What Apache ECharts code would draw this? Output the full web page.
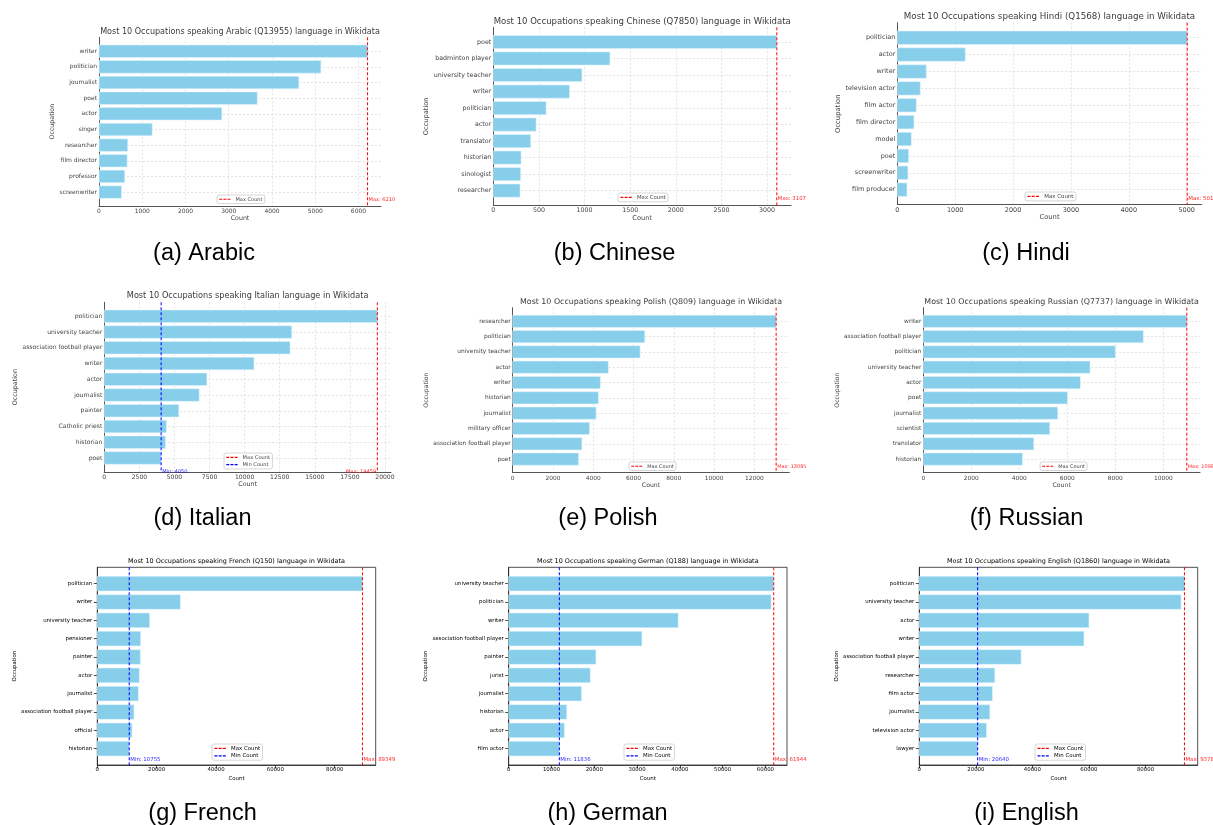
<!DOCTYPE html>
<html><head><meta charset="utf-8">
<script src="https://cdn.jsdelivr.net/npm/echarts@6/dist/echarts.min.js"></script>
<style>html,body{margin:0;padding:0;background:#fff}#main{width:1213px;height:825px}</style>
</head><body><div id="main"></div>
<script>
// ---------------- DATA ----------------
const arabicTitle = 'Most 10 Occupations speaking Arabic (Q13955) language in Wikidata';
const arabicCaption = '(a) Arabic';
const arabicOccupations = ['writer','politician','journalist','poet','actor','singer','researcher','film director','professor','screenwriter'];
const arabicCounts = [6210,5130,4620,3660,2840,1230,665,650,595,520];
const arabicTicks = [0,1000,2000,3000,4000,5000,6000];

const chineseTitle = 'Most 10 Occupations speaking Chinese (Q7850) language in Wikidata';
const chineseCaption = '(b) Chinese';
const chineseOccupations = ['poet','badminton player','university teacher','writer','politician','actor','translator','historian','sinologist','researcher'];
const chineseCounts = [3107,1278,971,835,579,469,410,304,300,293];
const chineseTicks = [0,500,1000,1500,2000,2500,3000];

const hindiTitle = 'Most 10 Occupations speaking Hindi (Q1568) language in Wikidata';
const hindiCaption = '(c) Hindi';
const hindiOccupations = ['politician','actor','writer','television actor','film actor','film director','model','poet','screenwriter','film producer'];
const hindiCounts = [5010,1175,501,397,328,288,242,196,184,167];
const hindiTicks = [0,1000,2000,3000,4000,5000];

const italianTitle = 'Most 10 Occupations speaking Italian language in Wikidata';
const italianCaption = '(d) Italian';
const italianOccupations = ['politician','university teacher','association football player','writer','actor','journalist','painter','Catholic priest','historian','poet'];
const italianCounts = [19459,13357,13238,10667,7310,6762,5310,4429,4357,4050];
const italianTicks = [0,2500,5000,7500,10000,12500,15000,17500,20000];

const polishTitle = 'Most 10 Occupations speaking Polish (Q809) language in Wikidata';
const polishCaption = '(e) Polish';
const polishOccupations = ['researcher','politician','university teacher','actor','writer','historian','journalist','military officer','association football player','poet'];
const polishCounts = [13085,6559,6329,4751,4356,4258,4143,3814,3436,3271];
const polishTicks = [0,2000,4000,6000,8000,10000,12000];

const russianTitle = 'Most 10 Occupations speaking Russian (Q7737) language in Wikidata';
const russianCaption = '(f) Russian';
const russianOccupations = ['writer','association football player','politician','university teacher','actor','poet','journalist','scientist','translator','historian'];
const russianCounts = [10980,9168,8003,6949,6546,6006,5603,5270,4605,4133];
const russianTicks = [0,2000,4000,6000,8000,10000];

const frenchTitle = 'Most 10 Occupations speaking French (Q150) language in Wikidata';
const frenchCaption = '(g) French';
const frenchOccupations = ['politician','writer','university teacher','pensioner','painter','actor','journalist','association football player','official','historian'];
const frenchCounts = [89349,27978,17640,14607,14494,14157,13820,12360,11685,10755];
const frenchTicks = [0,20000,40000,60000,80000];

const germanTitle = 'Most 10 Occupations speaking German (Q188) language in Wikidata';
const germanCaption = '(h) German';
const germanOccupations = ['university teacher','politician','writer','association football player','painter','jurist','journalist','historian','actor','film actor'];
const germanCounts = [61944,61333,39608,31137,20392,19059,17020,13569,13020,11836];
const germanTicks = [0,10000,20000,30000,40000,50000,60000];

const englishTitle = 'Most 10 Occupations speaking English (Q1860) language in Wikidata';
const englishCaption = '(i) English';
const englishOccupations = ['politician','university teacher','actor','writer','association football player','researcher','film actor','journalist','television actor','lawyer'];
const englishCounts = [93780,92588,60000,58235,36000,26706,25882,24941,23765,20640];
const englishTicks = [0,20000,40000,60000,80000];

const panelData = [
  {title: arabicTitle, caption: arabicCaption, occ: arabicOccupations, counts: arabicCounts, ticks: arabicTicks, showMin: false},
  {title: chineseTitle, caption: chineseCaption, occ: chineseOccupations, counts: chineseCounts, ticks: chineseTicks, showMin: false},
  {title: hindiTitle, caption: hindiCaption, occ: hindiOccupations, counts: hindiCounts, ticks: hindiTicks, showMin: false},
  {title: italianTitle, caption: italianCaption, occ: italianOccupations, counts: italianCounts, ticks: italianTicks, showMin: true},
  {title: polishTitle, caption: polishCaption, occ: polishOccupations, counts: polishCounts, ticks: polishTicks, showMin: false},
  {title: russianTitle, caption: russianCaption, occ: russianOccupations, counts: russianCounts, ticks: russianTicks, showMin: false},
  {title: frenchTitle, caption: frenchCaption, occ: frenchOccupations, counts: frenchCounts, ticks: frenchTicks, showMin: true},
  {title: germanTitle, caption: germanCaption, occ: germanOccupations, counts: germanCounts, ticks: germanTicks, showMin: true},
  {title: englishTitle, caption: englishCaption, occ: englishOccupations, counts: englishCounts, ticks: englishTicks, showMin: true}
];

// ---------------- LAYOUT / STYLE ----------------
const layouts = [
  {grid:[99,37.3,282,168.7], titleY:32, fs:8.05, cap:[204,253.8], legend:[217,195], yGap:40.2, xGap:8.5, boxed:false, annY:9.5, maxAlign:'left'},
  {grid:[493.3,27.3,297.7,178], titleY:21.7, fs:8.5, cap:[614.5,253.8], legend:[618,193], yGap:61.3, xGap:9.4, boxed:false, annY:9.5, maxAlign:'left'},
  {grid:[897.3,22.7,304.4,182], titleY:16.7, fs:8.7, cap:[1026,253.8], legend:[1025,192], yGap:54.2, xGap:9.5, boxed:false, annY:9.5, maxAlign:'left'},
  {grid:[104.3,302.3,286.7,169.7], titleY:296, fs:8.16, cap:[202.5,519], legend:[224,453], yGap:83.8, xGap:8.5, boxed:false, annY:9.85, maxAlign:'right'},
  {grid:[512.7,307.7,276.6,165], titleY:301.7, fs:7.9, cap:[608,519], legend:[629,462], yGap:81.7, xGap:7.6, boxed:false, annY:9.5, maxAlign:'left'},
  {grid:[923.3,307.7,276.7,165], titleY:301.7, fs:7.9, cap:[1026.5,519], legend:[1040,462], yGap:81.3, xGap:7.6, boxed:false, annY:9.5, maxAlign:'left'},
  {grid:[97.3,567.3,278.4,197.7], titleY:561.7, fs:6.46, cap:[202.5,813.5], legend:[212,744], yGap:78.1, xGap:10.8, boxed:true, annY:9.6, maxAlign:'left'},
  {grid:[508.7,567.3,278.3,197.7], titleY:561.7, fs:6.46, cap:[607.5,813.5], legend:[624,744], yGap:78.2, xGap:10.8, boxed:true, annY:9.6, maxAlign:'left'},
  {grid:[919.3,567.3,278.4,197.7], titleY:561.7, fs:6.46, cap:[1026.5,813.5], legend:[1035,744], yGap:77.8, xGap:10.8, boxed:true, annY:9.6, maxAlign:'left'}
];

const FONT = 'DejaVu Sans';
const BAR_COLOR = '#87CEEB';
const Y_MIN = -0.89, Y_MAX = 9.89;
const DASH_ICON = 'path://M0,0h5v2h-5zM7,0h5v2h-5zM14,0h5v2h-5z';

const option = {
  animation: false,
  backgroundColor: '#fff',
  title: [], grid: [], xAxis: [], yAxis: [], series: [], legend: []
};

panelData.forEach((d, k) => {
  const L = layouts[k];
  const boxed = L.boxed;
  const tickFs = boxed ? L.fs * 0.84 : L.fs * 0.745;
  const nameFs = boxed ? L.fs * 0.84 : L.fs * 0.78;
  const smallFs = boxed ? L.fs * 0.84 : L.fs * 0.63;
  const textColor = boxed ? '#000' : '#444';
  const lineColor = boxed ? '#222' : '#555';
  const maxVal = Math.max(...d.counts);
  const minVal = Math.min(...d.counts);
  const [gl, gt, gw, gh] = L.grid;
  const cats = d.occ.map((_, i) => i);

  option.title.push({
    text: d.title, left: gl + gw / 2, top: L.titleY, textAlign: 'center', textVerticalAlign: 'middle', padding: 0,
    textStyle: {fontFamily: FONT, fontSize: L.fs, fontWeight: 'normal', color: boxed ? '#000' : '#3a3a3a'}
  });
  option.title.push({
    text: d.caption, left: L.cap[0], top: L.cap[1], textAlign: 'center', textVerticalAlign: 'middle', padding: 0,
    textStyle: {fontFamily: 'Liberation Sans', fontSize: 23.5, fontWeight: 'normal', color: '#000'}
  });

  option.grid.push({
    left: gl, top: gt, width: gw, height: gh, containLabel: false,
    show: boxed, borderColor: lineColor, borderWidth: boxed ? 0.8 : 0, backgroundColor: 'transparent'
  });

  option.xAxis.push({
    type: 'value', gridIndex: k, min: 0, max: maxVal * 1.05,
    name: 'Count', nameLocation: 'middle', nameGap: L.xGap,
    nameTextStyle: {fontFamily: FONT, fontSize: nameFs, color: textColor},
    axisLine: {show: true, onZero: false, lineStyle: {color: lineColor, width: boxed ? 0.8 : 1}},
    axisTick: {show: boxed, customValues: d.ticks, length: 3.5, lineStyle: {color: lineColor, width: 0.8}},
    axisLabel: {customValues: d.ticks, fontFamily: FONT, fontSize: tickFs, color: textColor, margin: boxed ? 2.5 : 2.5, formatter: v => String(v)},
    splitLine: {show: !boxed, lineStyle: {color: '#dcdcdc', type: [2, 2], width: 0.8}}
  });

  option.yAxis.push({
    type: 'value', gridIndex: k, min: Y_MIN, max: Y_MAX, inverse: true,
    name: 'Occupation', nameLocation: 'middle', nameGap: L.yGap,
    nameTextStyle: {fontFamily: FONT, fontSize: nameFs, color: textColor},
    axisLine: {show: true, onZero: false, lineStyle: {color: lineColor, width: boxed ? 0.8 : 1}},
    axisTick: {show: boxed, customValues: cats, length: 3.5, lineStyle: {color: lineColor, width: 0.8}},
    axisLabel: {customValues: cats, fontFamily: FONT, fontSize: tickFs, color: textColor, margin: boxed ? 5 : 2,
      formatter: v => d.occ[Math.round(v)] || ''},
    splitLine: {show: !boxed, lineStyle: {color: '#dcdcdc', type: [2, 2], width: 0.8}}
  });

  option.series.push({
    type: 'custom', name: 'Count', xAxisIndex: k, yAxisIndex: k, clip: false, z: 2,
    encode: {x: 0, y: 1},
    data: d.counts.map((c, i) => [c, i]),
    renderItem: (params, api) => {
      const v = api.value(0), i = api.value(1);
      const a = api.coord([0, i - 0.4]);
      const b = api.coord([v, i + 0.4]);
      return {type: 'rect', shape: {x: a[0], y: Math.min(a[1], b[1]), width: b[0] - a[0], height: Math.abs(b[1] - a[1])},
        style: {fill: BAR_COLOR, stroke: 'rgba(225,244,251,0.9)', lineWidth: 0.6}};
    }
  });

  const refLine = (name, value, color, align) => ({
    type: 'custom', name: name, xAxisIndex: k, yAxisIndex: k, clip: false, z: 5,
    itemStyle: {color: color},
    encode: {x: 0, y: 1},
    data: [[value, L.annY]],
    renderItem: (params, api) => {
      const cs = params.coordSys;
      const p = api.coord([api.value(0), api.value(1)]);
      return {type: 'group', children: [
        {type: 'line', shape: {x1: p[0], y1: cs.y, x2: p[0], y2: cs.y + cs.height},
          style: {stroke: color, lineWidth: 1, lineDash: [3, 2]}},
        {type: 'text', x: p[0] + (align === 'left' ? 1 : -1), y: p[1],
          style: {text: name.split(' ')[0] + ': ' + value, fill: color, fontSize: smallFs, fontFamily: FONT,
            align: align, verticalAlign: 'middle', opacity: 0.85}}
      ]};
    }
  });
  option.series.push(refLine('Max Count', maxVal, '#ff0000', L.maxAlign));
  const legendItems = [{name: 'Max Count', icon: DASH_ICON}];
  if (d.showMin) {
    option.series.push(refLine('Min Count', minVal, '#0000ff', 'left'));
    legendItems.push({name: 'Min Count', icon: DASH_ICON});
  }

  option.legend.push({
    left: L.legend[0], top: L.legend[1], orient: 'vertical', selectedMode: false,
    itemWidth: smallFs * 2.2, itemHeight: 1.2, itemGap: smallFs * 0.45,
    padding: [smallFs * 0.35, smallFs * 0.45],
    backgroundColor: 'rgba(255,255,255,0.85)', borderColor: '#cccccc', borderWidth: 0.8, borderRadius: 2,
    textStyle: {fontFamily: FONT, fontSize: smallFs, color: boxed ? '#000' : '#444'},
    data: legendItems
  });
});

const chart = echarts.init(document.getElementById('main'), null, {renderer: 'canvas'});
chart.setOption(option);
</script>
</body></html>
